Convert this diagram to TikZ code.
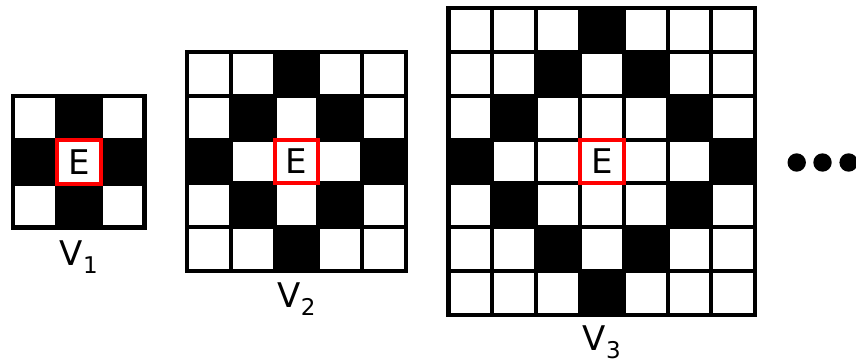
\documentclass[tikz,border=0pt]{standalone}
\usepackage{fontspec}
\setmainfont{DejaVu Sans}
\tikzset{
  gridline/.style={line width=4pt, line cap=rect},
  outerline/.style={line width=4.5pt},
  ebox/.style={draw=red, line width=4pt, minimum size=43.8pt, inner sep=0pt, font=\fontsize{34}{34}\selectfont},
  vlabel/.style={anchor=base, inner sep=0pt, font=\fontsize{34}{34}\selectfont},
  dotnode/.style={circle, fill=black, minimum size=18.4pt, inner sep=0pt},
}
\newcommand{\cellsz}{43.8}
\newcommand{\mygrid}[4]{% cx, cy, n, name
  \pgfmathsetmacro{\xa}{#1-#3*\cellsz/2}
  \pgfmathsetmacro{\ya}{#2-#3*\cellsz/2}
  \pgfmathtruncatemacro{\kk}{(#3-1)/2}
  \pgfmathtruncatemacro{\nm}{#3-1}
  \foreach \r in {0,...,\nm}{
    \foreach \c in {0,...,\nm}{
      \pgfmathtruncatemacro{\dd}{abs(\r-\kk)+abs(\c-\kk)}
      \ifnum\dd=\kk
        \fill[black] (\xa+\c*\cellsz,\ya+\r*\cellsz) rectangle ++(\cellsz,\cellsz);
      \fi
    }
  }
  \foreach \i in {1,...,\nm}{
    \draw[gridline] (\xa+\i*\cellsz,\ya) -- (\xa+\i*\cellsz,\ya+#3*\cellsz);
    \draw[gridline] (\xa,\ya+\i*\cellsz) -- (\xa+#3*\cellsz,\ya+\i*\cellsz);
  }
  \draw[outerline] (\xa,\ya) rectangle (\xa+#3*\cellsz,\ya+#3*\cellsz);
  \node[ebox] (#4) at (#1,#2) {\raisebox{-2pt}{E}};
}
\begin{document}
\begin{tikzpicture}[x=1pt,y=-1pt]
\useasboundingbox (0,0) rectangle (856,361);
\mygrid{78.9}{161.7}{3}{E1}
\mygrid{296.5}{161.5}{5}{E2}
\mygrid{601.9}{161.5}{7}{E3}
\node[vlabel] (L1) at (78.9,265) {V\raisebox{-8pt}{\fontsize{23}{23}\selectfont 1}};
\node[vlabel] (L2) at (296.5,307) {V\raisebox{-8pt}{\fontsize{23}{23}\selectfont 2}};
\node[vlabel] (L3) at (601.9,350) {V\raisebox{-8pt}{\fontsize{23}{23}\selectfont 3}};
\node[dotnode] (d1) at (796.7,162.5) {};
\node[dotnode] (d2) at (822.5,162.5) {};
\node[dotnode] (d3) at (848.6,162.5) {};
\end{tikzpicture}
\end{document}
